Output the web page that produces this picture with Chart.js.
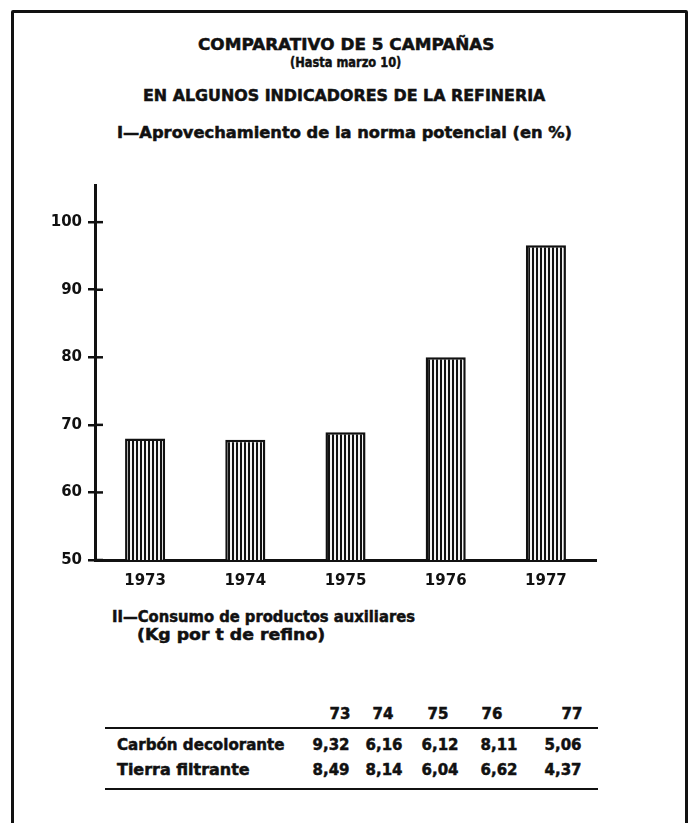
<!DOCTYPE html>
<html>
<head>
<meta charset="utf-8">
<script src="https://cdn.jsdelivr.net/npm/chart.js@4.4.1/dist/chart.umd.min.js"></script>
<style>
  html, body { margin: 0; padding: 0; background: #fff; }
  body { width: 692px; height: 823px; position: relative; overflow: hidden;
         font-family: "DejaVu Sans", sans-serif; font-weight: bold; color: #111; }
  .frame { position: absolute; left: 11px; top: 10px; width: 671px; height: 830px;
           border: 3px solid #111; border-radius: 2px; }
  .t { position: absolute; white-space: nowrap; transform-origin: 0 50%; line-height: 1;
       -webkit-text-stroke: 0.5px #111; }
  .rule { position: absolute; left: 105px; width: 493px; height: 2px; background: #111; }
  #wrap { position: absolute; left: 0; top: 170px; width: 692px; height: 430px; }
</style>
</head>
<body>
<div class="frame"></div>
<div id="texts"></div>
<div id="wrap"><canvas id="chart"></canvas></div>
<div class="rule" style="top:727px"></div>
<div class="rule" style="top:788px"></div>

<script>
// chart I: aprovechamiento de la norma potencial (%)
const years = ["1973", "1974", "1975", "1976", "1977"];
const aprovechamiento = [68.0, 67.8, 68.9, 80.0, 96.6];
const yTicks = [50, 60, 70, 80, 90, 100];

// table II: consumo de productos auxiliares (kg por t de refino)
const shortYears = ["73", "74", "75", "76", "77"];
const rowLabels = ["Carbón decolorante", "Tierra filtrante"];
const carbon = [9.32, 6.16, 6.12, 8.11, 5.06];
const tierra = [8.49, 8.14, 6.04, 6.62, 4.37];

const texts = document.getElementById("texts");
function put(str, x, y, w, size) {
  const el = document.createElement("div");
  el.className = "t";
  el.textContent = str;
  el.style.fontSize = size + "px";
  el.style.left = x + "px";
  el.style.top = (y - size / 2) + "px";
  texts.appendChild(el);
  if (w) el.style.transform = "scaleX(" + (w / el.offsetWidth) + ")";
  return el;
}

put("COMPARATIVO DE 5 CAMPAÑAS", 198, 45, 296, 15);
put("(Hasta marzo 10)", 290, 62, 111, 14);
put("EN ALGUNOS INDICADORES DE LA REFINERIA", 143, 96, 402, 15);
put("I—Aprovechamiento de la norma potencial (en %)", 117, 133, 455, 15);
put("II—Consumo de productos auxiliares", 112, 617, 303, 15);
put("(Kg por t de refino)", 137, 635, 188, 15);

const headX = [340, 383, 438, 492, 572];
const valX = [331, 384, 440, 499, 563];
const fmt = v => v.toFixed(2).replace(".", ",");
function centered(str, cx, y, size) {
  const el = put(str, 0, y, 0, size);
  el.style.left = (cx - el.offsetWidth / 2) + "px";
}
shortYears.forEach((s, i) => centered(s, headX[i], 714, 15));
put(rowLabels[0], 117, 745, 168, 15);
put(rowLabels[1], 117, 770, 133, 15);
carbon.forEach((v, i) => centered(fmt(v), valX[i], 745, 15));
tierra.forEach((v, i) => centered(fmt(v), valX[i], 770, 15));

// vertical hatch fill for the bars
const pc = document.createElement("canvas");
pc.width = 4; pc.height = 4;
const pctx = pc.getContext("2d");
pctx.fillStyle = "#f4f4f4";
pctx.fillRect(0, 0, 4, 4);
pctx.fillStyle = "#111";
pctx.fillRect(0, 0, 2, 4);
const hatch = pctx.createPattern(pc, "repeat");

// tick marks crossing the y axis
const crossTicks = {
  id: "crossTicks",
  afterDraw(chart) {
    const y = chart.scales.y, ctx = chart.ctx;
    ctx.save();
    ctx.strokeStyle = "#111";
    ctx.lineWidth = 2.5;
    y.ticks.forEach(t => {
      const py = y.getPixelForValue(t.value);
      ctx.beginPath();
      ctx.moveTo(y.right, py);
      ctx.lineTo(y.right + 8, py);
      ctx.stroke();
    });
    ctx.restore();
  }
};

const tickFont = { family: "DejaVu Sans", size: 15, weight: "bold" };

new Chart(document.getElementById("chart"), {
  type: "bar",
  data: {
    labels: years,
    datasets: [{
      data: aprovechamiento,
      backgroundColor: hatch,
      borderColor: "#111",
      borderWidth: 2.5,
      borderSkipped: false,
      barPercentage: 0.4,
      categoryPercentage: 1
    }]
  },
  options: {
    responsive: true,
    maintainAspectRatio: false,
    animation: false,
    layout: { padding: { top: 13, right: 96, left: 0, bottom: 0 } },
    plugins: { legend: { display: false }, tooltip: { enabled: false } },
    scales: {
      x: {
        grid: { display: false },
        border: { display: true, color: "#111", width: 3 },
        ticks: { color: "#111", padding: 4, font: tickFont },
        afterFit(s) { s.height = 40; }
      },
      y: {
        min: 50,
        max: 105.5,
        afterBuildTicks(s) { s.ticks = yTicks.map(v => ({ value: v })); },
        grid: { drawOnChartArea: false, drawTicks: true, tickLength: 7, color: "#111", lineWidth: 2.5 },
        border: { display: true, color: "#111", width: 3 },
        ticks: { color: "#111", padding: 6, font: tickFont },
        afterFit(s) { s.width = 95; }
      }
    }
  },
  plugins: [crossTicks]
});
</script>
</body>
</html>
